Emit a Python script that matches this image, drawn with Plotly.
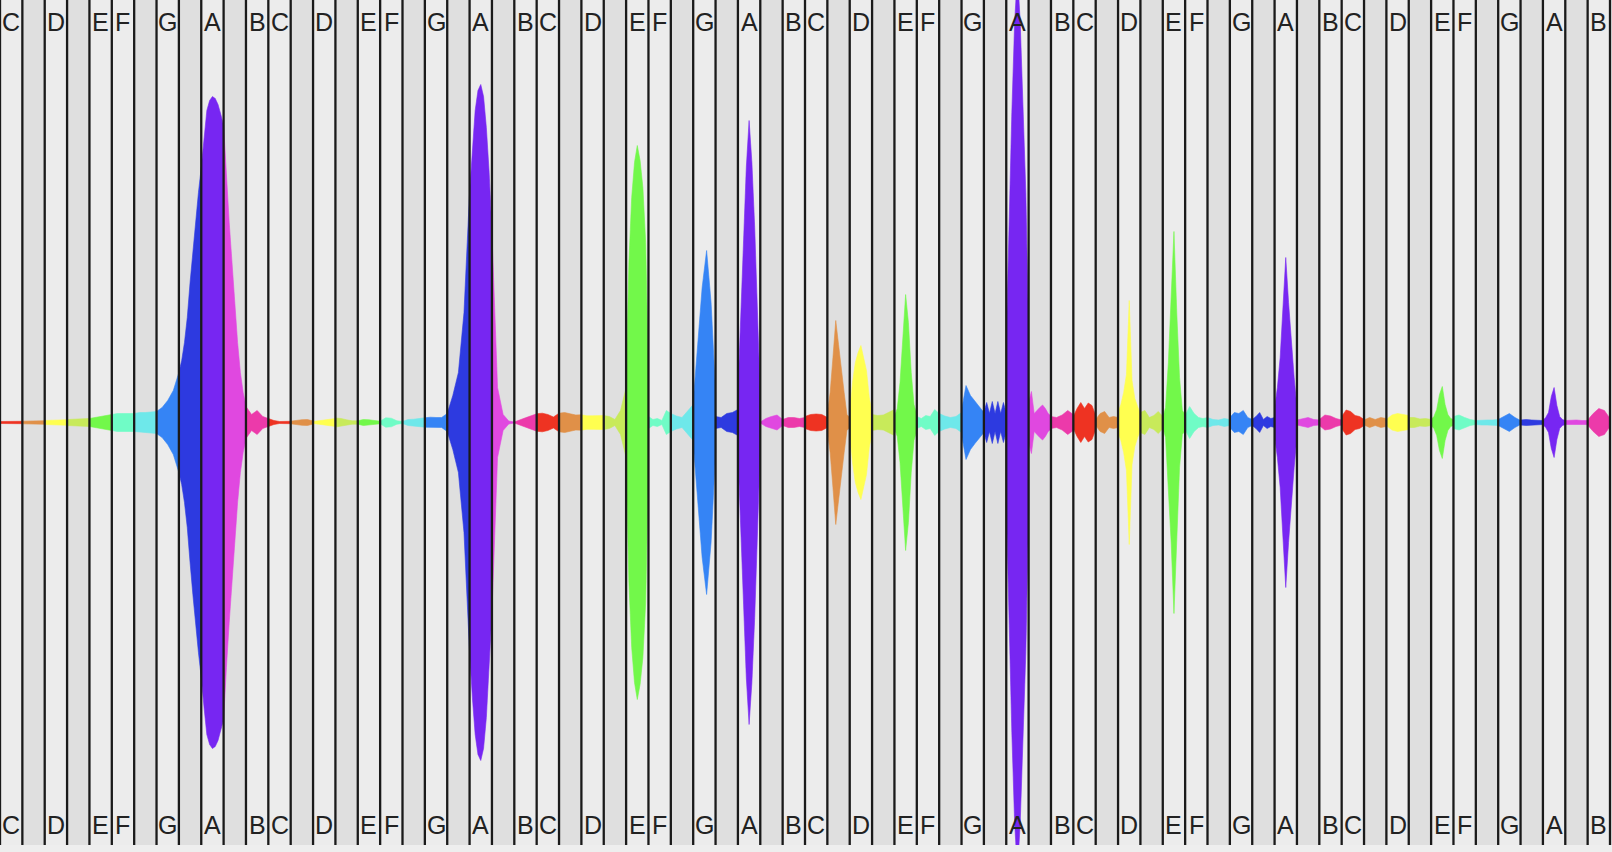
import plotly.graph_objects as go

# Pitch classes and their colours
NAMES = ["C", "C#", "D", "D#", "E", "F", "F#", "G", "G#", "A", "A#", "B"]
COLORS = ["#ee3322", "#e09048", "#ffff50", "#c8ea5a", "#72f84a", "#70fcc6",
          "#6ee8ea", "#3584f5", "#2d3ae0", "#7726f2", "#e048e0", "#ec3aaa"]
N_OCTAVES = 6

# Spectrum half-height (px) per semitone column, samples evenly spaced from
# the left edge of each key column to its right edge.
OCT1 = [
    [1, 1, 1, 1, 1.2],
    [1.3, 1.5, 1.5, 1.6, 1.8],
    [2, 2.3, 2.5, 2.6, 2.8],
    [3, 3.2, 3.5, 3.8, 4],
    [4, 5, 6, 7, 8],
    [8, 9, 9, 9, 9],
    [9, 10, 10, 10.5, 11],
    [11, 15, 22, 32, 50],
    [50, 62, 80, 105, 140, 172, 203, 230, 255],
    [255, 285, 312, 322, 326, 324, 318, 308, 297],
    [297, 245, 200, 160, 118, 80, 50, 30, 16],
    [16, 8, 12, 6, 4],
]
OCT2 = [
    [4, 2, 1, 0.8, 1.2],
    [1.3, 2.2, 2.8, 3, 1.5],
    [1, 1.7, 2.7, 3, 4],
    [4.5, 4, 2.7, 1.7, 1.7],
    [1.7, 3, 2.7, 2, 1.3],
    [1.3, 4.7, 4.3, 1.7, 1],
    [1, 3, 3.3, 4, 4.7],
    [4.7, 5.3, 5, 5, 9],
    [9, 27, 50, 110, 230],
    [230, 275, 312, 332, 338, 326, 295, 250, 190],
    [190, 35, 8, 1.5, 0.5],
    [0.5, 2.3, 4.7, 6.7, 8.7],
]
OCT3 = [
    [8.7, 9.3, 8, 5.5, 9.3],
    [9.3, 10, 8.7, 7.5, 7.7],
    [7.7, 6.7, 6.7, 6.7, 7],
    [7, 6, 3, 12, 35],
    [40, 160, 225, 260, 277, 262, 235, 180, 45],
    [6, 3, 4, 2, 12, 9],
    [9, 6.5, 5, 12, 18],
    [20, 80, 135, 172, 120, 30],
    [6, 5, 9, 10, 13],
    [30, 100, 185, 255, 302, 260, 195, 120, 25],
    [0.5, 4, 6, 7.5, 3],
    [3, 5, 5, 4, 5],
]
OCT4 = [
    [6, 8, 8.5, 8, 5],
    [9, 30, 65, 102, 78, 52, 30, 8, 5],
    [10, 40, 60, 70, 77, 66, 52, 25, 10],
    [8, 7, 7.5, 10, 13],
    [6, 14, 40, 85, 128, 100, 50, 18, 8],
    [6, 4, 7, 6, 13, 9],
    [9, 6.5, 5, 6, 10],
    [12, 37, 27, 21, 15, 10],
    [10, 20, 9, 21, 9, 21, 9, 20, 9],
    [80, 205, 310, 400, 450, 400, 320, 230, 90],
    [20, 31, 9, 12.5, 15, 17.5, 14, 9, 6.5],
    [6, 5, 7.5, 12, 8],
]
OCT5 = [
    [6, 14, 20, 14, 19.5, 17, 7],
    [3, 9, 11, 5, 6, 5],
    [10, 18, 30, 48, 122, 42, 24, 15, 8],
    [10, 12, 5, 7, 11, 6],
    [5, 15, 60, 120, 191, 110, 45, 12, 8],
    [7, 16, 9, 5, 4, 5],
    [5, 3, 2.5, 4, 3],
    [5, 10, 9, 12, 5, 3],
    [3, 6, 10, 3, 6, 4, 5],
    [14, 35, 65, 110, 165, 120, 80, 45, 14],
    [2.5, 4, 5, 3, 2.5],
    [3, 7.5, 6.5, 4, 2.5],
]
OCT6 = [
    [6, 12.5, 11, 7, 6, 3],
    [2.5, 5, 3, 5, 4],
    [3, 7.5, 9, 8, 7],
    [5, 5, 3.5, 4, 3],
    [3, 6, 13, 28, 36, 18, 8, 4, 3],
    [6, 7.5, 5, 3, 2],
    [2, 2.5, 2.5, 2.5, 3],
    [3, 6, 9, 5, 2],
    [2.5, 3, 2.5, 2.5, 2],
    [2, 5, 10, 26, 35, 17, 6, 3, 2],
    [2, 2.5, 2.5, 2, 2],
    [2.5, 9, 14, 12, 4],
]

AMP = OCT1 + OCT2 + OCT3 + OCT4 + OCT5 + OCT6
N_KEYS = 12 * N_OCTAVES

WHITE_BG = "#ececec"
BLACK_BG = "#dfdfdf"
LINE_COLOR = "#1a1a1a"
TEXT_COLOR = "#222222"

fig = go.Figure()

for k, samples in enumerate(AMP):
    name = NAMES[k % 12]
    color = COLORS[k % 12]
    n = len(samples)
    xs = [k + i / (n - 1) for i in range(n)]
    x = xs + xs[::-1]
    y = list(samples) + [-v for v in samples[::-1]]
    fig.add_trace(go.Scatter(
        x=x, y=y, mode="lines", fill="toself", fillcolor=color,
        line=dict(width=0.6, color=color), hoverinfo="skip",
        showlegend=False, name=name,
    ))

shapes = []
annotations = []
for k in range(N_KEYS):
    name = NAMES[k % 12]
    if "#" in name:
        shapes.append(dict(type="rect", xref="x", yref="paper", x0=k, x1=k + 1,
                           y0=0, y1=1, fillcolor=BLACK_BG, line=dict(width=0),
                           layer="below"))
    else:
        for yy in (0.9734, 0.0233):
            annotations.append(dict(x=k + 0.5, y=yy, xref="x", yref="paper",
                                    text=name, showarrow=False,
                                    font=dict(size=25, color=TEXT_COLOR,
                                              family="Liberation Sans, Arial, sans-serif"),
                                    xanchor="center", yanchor="middle"))
for k in range(N_KEYS + 1):
    shapes.append(dict(type="line", xref="x", yref="paper", x0=k, x1=k,
                       y0=0, y1=1, line=dict(color=LINE_COLOR, width=2.3),
                       layer="above"))

fig.update_layout(
    width=1612, height=852,
    margin=dict(l=0, r=0, t=0, b=7),
    paper_bgcolor="#eeeeee",
    plot_bgcolor=WHITE_BG,
    shapes=shapes,
    annotations=annotations,
    showlegend=False,
    xaxis=dict(range=[0, N_KEYS * 1612 / 1610], visible=False, fixedrange=True),
    yaxis=dict(range=[-422.5, 422.5], visible=False, fixedrange=True),
)

fig.write_html("out.html", config={"displayModeBar": False})
